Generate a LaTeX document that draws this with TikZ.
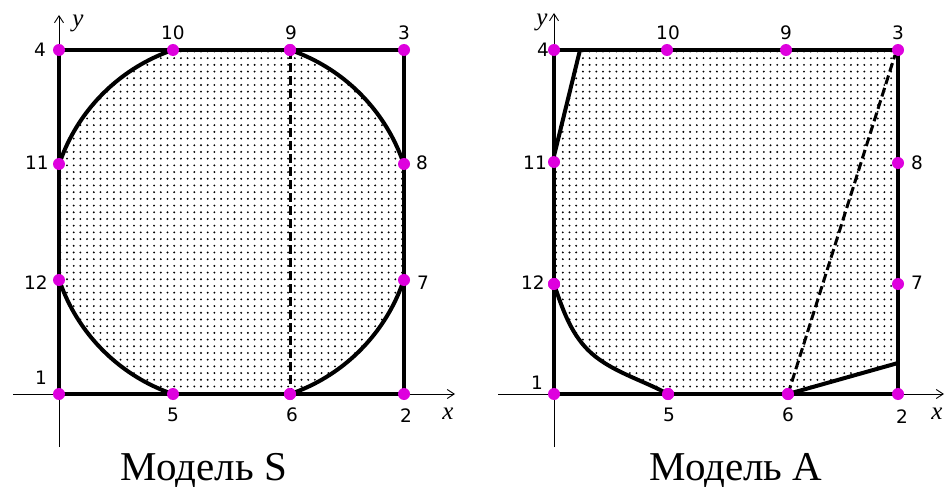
\documentclass[tikz,border=0pt]{standalone}
\usepackage{fontspec}
\setmainfont{Liberation Serif}
\newfontfamily\lblfont{DejaVu Sans}
\usetikzlibrary{patterns,arrows.meta}
\definecolor{mag}{RGB}{222,0,222}
\pgfdeclarepatternformonly{mydots}{\pgfqpoint{-1.5pt}{-1.5pt}}{\pgfqpoint{1.5pt}{1.5pt}}{\pgfqpoint{6.7pt}{6.7pt}}{\pgfpathcircle{\pgfqpoint{0pt}{0pt}}{1.05pt}\pgfusepath{fill}}
\begin{document}
\begin{tikzpicture}[x=1pt,y=-1pt,
  pt/.style={circle,fill=mag,inner sep=0pt,minimum size=12pt},
  lbl/.style={font=\lblfont\fontsize{18.5}{18.5}\selectfont,inner sep=0pt},
  heavy/.style={line width=4pt,line join=miter},
  axis/.style={line width=0.9pt,-{Straight Barb[length=7pt,width=9pt]}},
  hatch/.style={pattern=mydots,pattern color=black},
  cut/.style={line width=3pt,dash pattern=on 9pt off 4pt},
  title/.style={font=\fontsize{41}{41}\selectfont,anchor=base},
  axlbl/.style={font=\itshape\fontsize{25}{25}\selectfont,inner sep=0pt}]
\useasboundingbox (0,0) rectangle (946,487);
% ===================== Model S =====================
\draw[axis] (13,394) -- (455,394);
\draw[axis] (59,447) -- (59,15);
\begin{scope}
  \clip (59,50) rectangle (404,394);
  \fill[hatch] (231.5,222) circle[radius=181.7];
  \draw[heavy] (231.5,222) circle[radius=181.7];
\end{scope}
\draw[heavy] (59,50) rectangle (404,394);
\node[pt] (s1) at (59,394) {};
\node[pt] (s2) at (404,394) {};
\node[pt] (s3) at (404,50) {};
\node[pt] (s4) at (59,50) {};
\node[pt] (s5) at (173,394) {};
\node[pt] (s6) at (290,394) {};
\node[pt] (s7) at (404,280) {};
\node[pt] (s8) at (404,164) {};
\node[pt] (s9) at (290,50) {};
\node[pt] (s10) at (173,50) {};
\node[pt] (s11) at (59,164) {};
\node[pt] (s12) at (59,280) {};
\draw[cut] (s9.center) -- (s6.center);
\node[pt] at (s9) {};
\node[pt] at (s6) {};
\node[lbl] (ls1) at (41,378) {1};
\node[lbl] (ls2) at (406,416) {2};
\node[lbl] (ls3) at (404,33) {3};
\node[lbl] (ls4) at (40,50) {4};
\node[lbl] (ls5) at (173,415) {5};
\node[lbl] (ls6) at (292,415) {6};
\node[lbl] (ls7) at (423,283) {7};
\node[lbl] (ls8) at (422,163) {8};
\node[lbl] (ls9) at (291,33) {9};
\node[lbl] (ls10) at (173,33) {10};
\node[lbl] (ls11) at (37,163) {11};
\node[lbl] (ls12) at (36,283) {12};
\node[axlbl] (sx) at (448,414) {x};
\node[axlbl] (sy) at (78,23) {y};
\node[title] (ts) at (204,480) {Модель S};
% ===================== Model A =====================
\draw[axis] (498,394) -- (944,394);
\draw[axis] (554,447) -- (554,13);
\coordinate (atop) at (580,50);
\coordinate (aleft) at (554,156);
\coordinate (aright) at (898,363);
\coordinate (adash) at (895,55);
\coordinate (aknee) at (588,350);
\fill[hatch] (atop) -- (898,50) -- (aright) -- (788,394) -- (668,394)
  .. controls (641.7,379.6) and (609,371) .. (aknee)
  .. controls (570,332) and (562,307.5) .. (554,284)
  -- (aleft) -- cycle;
\draw[heavy] (554,50) rectangle (898,394);
\node[pt] (a1) at (554,394) {};
\node[pt] (a2) at (898,394) {};
\node[pt] (a3) at (898,50) {};
\node[pt] (a4) at (554,50) {};
\node[pt] (a5) at (668,394) {};
\node[pt] (a6) at (788,394) {};
\node[pt] (a7) at (898,284) {};
\node[pt] (a8) at (898,163) {};
\node[pt] (a9) at (786,50) {};
\node[pt] (a10) at (667,50) {};
\node[pt] (a11) at (554,162) {};
\node[pt] (a12) at (554,284) {};
\draw[heavy] (a5.center) .. controls (641.7,379.6) and (609,371) .. (aknee)
  .. controls (570,332) and (562,307.5) .. (a12.center);
\draw[heavy] (aleft) -- (atop);
\draw[heavy] (a6.center) -- (aright);
\draw[cut] (a6.center) -- (adash);
\node[pt] at (a6) {};
\node[pt] at (a5) {};
\node[pt] at (a12) {};
\node[lbl] (la1) at (537,383) {1};
\node[lbl] (la2) at (902,417) {2};
\node[lbl] (la3) at (898,33) {3};
\node[lbl] (la4) at (543,50) {4};
\node[lbl] (la5) at (669,415) {5};
\node[lbl] (la6) at (788,415) {6};
\node[lbl] (la7) at (917,283) {7};
\node[lbl] (la8) at (917,163) {8};
\node[lbl] (la9) at (786,33) {9};
\node[lbl] (la10) at (668,33) {10};
\node[lbl] (la11) at (535,163) {11};
\node[lbl] (la12) at (533,283) {12};
\node[axlbl] (ax) at (937,414) {x};
\node[axlbl] (ay) at (542,22) {y};
\node[title] (ta) at (736,480) {Модель A};
\end{tikzpicture}
\end{document}
